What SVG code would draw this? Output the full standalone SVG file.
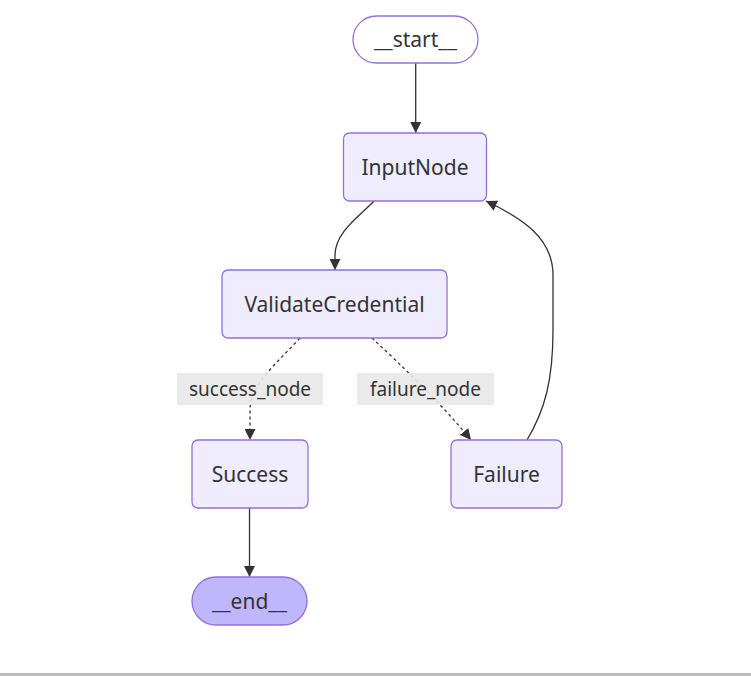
<svg xmlns="http://www.w3.org/2000/svg" width="751" height="676" viewBox="0 0 751 676">
<style>
.node rect{fill:#EFECFD;stroke:#9370DB;stroke-width:1.3}
.node.first rect{fill:#ffffff}
.node.last rect{fill:#BFB6FC}
.node text{font-family:"Noto Sans","Open Sans",sans-serif;font-size:21px;fill:#333;text-anchor:middle}
.edge{fill:none;stroke:#333;stroke-width:1.3}
.dashed{stroke-dasharray:3 3}
.elabel rect{fill:#e8e8e8;opacity:0.9}
.elabel text{font-family:"Noto Sans","Open Sans",sans-serif;font-size:19px;fill:#333;text-anchor:middle}
</style>
<defs>
<marker id="arrow" viewBox="0 0 10 10" refX="10" refY="5" markerWidth="11" markerHeight="11" markerUnits="userSpaceOnUse" orient="auto">
<path d="M0,0 L10,5 L0,10 z" fill="#333"/>
</marker>
</defs>
<rect x="0" y="673" width="751" height="3" fill="#bdbdbd"/>
<g id="connectors">
<path class="edge" d="M415.7,63 L415.7,133" marker-end="url(#arrow)"/>
<path class="edge" d="M374,201 C360,216 335,232 335,255 L335,270" marker-end="url(#arrow)"/>
<path class="edge dashed" d="M300,338 C276,364 250,385 250,410 L250,440" marker-end="url(#arrow)"/>
<path class="edge dashed" d="M372,338 C402,366 440,402 471,440" marker-end="url(#arrow)"/>
<path class="edge" d="M527,440 C545,410 553,380 553,330 L553,275 C553,238 522,218 486,201" marker-end="url(#arrow)"/>
<path class="edge" d="M249.5,508 L249.5,577" marker-end="url(#arrow)"/>
<g class="elabel" id="label-success_node"><rect x="177" y="373" width="146" height="32"/><text x="250" y="395.5">success_node</text></g>
<g class="elabel" id="label-failure_node"><rect x="357" y="373" width="137" height="32"/><text x="425.5" y="395.5">failure_node</text></g>
</g>
<g id="node-start" class="node first"><rect x="353" y="16" width="125" height="47" rx="23.5"/><text x="415.5" y="47">__start__</text></g>
<g id="node-InputNode" class="node"><rect x="343.5" y="133" width="143" height="68" rx="6"/><text x="415" y="174.5">InputNode</text></g>
<g id="node-ValidateCredential" class="node"><rect x="222" y="270" width="225" height="68" rx="6"/><text x="334.5" y="311.5">ValidateCredential</text></g>
<g id="node-Success" class="node"><rect x="192" y="440" width="116" height="68" rx="6"/><text x="250" y="481.5">Success</text></g>
<g id="node-Failure" class="node"><rect x="451" y="440" width="111" height="68" rx="6"/><text x="506.5" y="481.5">Failure</text></g>
<g id="node-end" class="node last"><rect x="192" y="577" width="115" height="48" rx="24"/><text x="249.5" y="608.5">__end__</text></g>
</svg>
